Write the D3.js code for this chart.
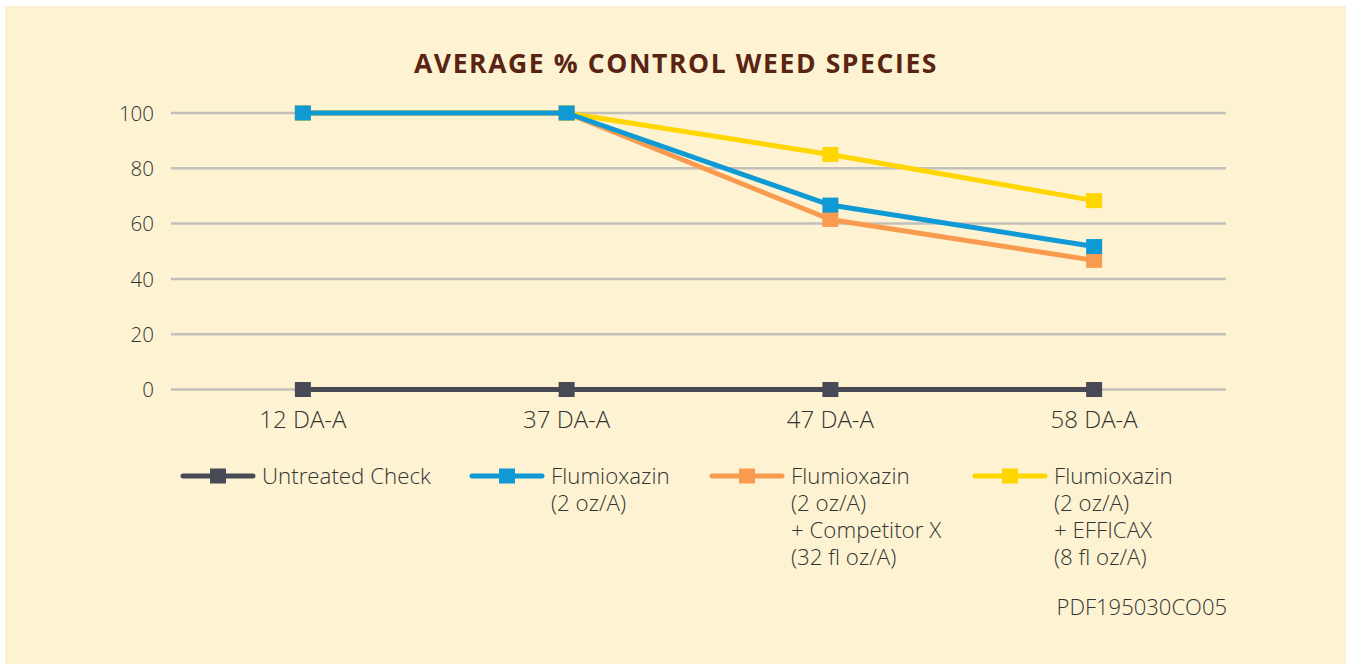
<!DOCTYPE html>
<html>
<head>
<meta charset="utf-8">
<script src="https://cdn.jsdelivr.net/npm/d3@7"></script>
<style>
  html, body { margin: 0; padding: 0; background: #ffffff; }
  svg { display: block; }
  text { font-family: "Open Sans", "Noto Sans", sans-serif; }
</style>
</head>
<body>
<svg id="chart" width="1346" height="664"></svg>
<script>
const categories = ["12 DA-A", "37 DA-A", "47 DA-A", "58 DA-A"];
const yTicks = [0, 20, 40, 60, 80, 100];
const untreated = [0, 0, 0, 0];
const flumioxazin = [100, 100, 66.7, 51.7];
const competitor = [100, 100, 61.5, 46.7];
const efficax = [100, 100, 85, 68.3];
const seriesNames = ["Untreated Check", "Flumioxazin", "Flumioxazin + Competitor X", "Flumioxazin + EFFICAX"];
const legendLabels = [
  ["Untreated Check"],
  ["Flumioxazin", "(2 oz/A)"],
  ["Flumioxazin", "(2 oz/A)", "+ Competitor X", "(32 fl oz/A)"],
  ["Flumioxazin", "(2 oz/A)", "+ EFFICAX", "(8 fl oz/A)"]
];
const colors = ["#474a54", "#0f9ad6", "#f89b4f", "#ffd600"];
const title = "AVERAGE % CONTROL WEED SPECIES";
const footnote = "PDF195030CO05";

const series = [
  { name: seriesNames[0], values: untreated, color: colors[0], legend: legendLabels[0] },
  { name: seriesNames[1], values: flumioxazin, color: colors[1], legend: legendLabels[1] },
  { name: seriesNames[2], values: competitor, color: colors[2], legend: legendLabels[2] },
  { name: seriesNames[3], values: efficax, color: colors[3], legend: legendLabels[3] }
];

const svg = d3.select("#chart");
svg.append("rect").attr("x", 5).attr("y", 6).attr("width", 1341).attr("height", 658).attr("fill", "#fdf3d2");

svg.append("text").attr("x", 676).attr("y", 73).attr("text-anchor", "middle")
  .attr("fill", "#5a2414").attr("font-size", 26.5).attr("font-weight", 700)
  .attr("letter-spacing", 1.6).text(title);

const x = d3.scaleBand().domain(categories).range([171, 1226]);
const y = d3.scaleLinear().domain([0, 100]).range([389.5, 113]);

// gridlines
const grid = svg.append("g");
grid.selectAll("line").data(yTicks).join("line")
  .attr("x1", 171).attr("x2", 1226)
  .attr("y1", d => y(d)).attr("y2", d => y(d))
  .attr("stroke", "#c2c0bb").attr("stroke-width", 2.5);

// y axis
const yAxis = svg.append("g").attr("transform", "translate(171,0)")
  .call(d3.axisLeft(y).tickValues(yTicks).tickSize(0).tickPadding(17));
yAxis.select(".domain").remove();
yAxis.selectAll("text").attr("font-size", 20.5).attr("fill", "#333").attr("font-family", "Open Sans").attr("font-weight", 300).attr("dy", "0.36em");

// x axis
const xAxis = svg.append("g").attr("transform", "translate(0,389.5)")
  .call(d3.axisBottom(x).tickSize(0));
xAxis.select(".domain").remove();
xAxis.selectAll("text").attr("font-size", 24).attr("fill", "#333").attr("font-family", "Open Sans")
  .attr("font-weight", 300).attr("y", 38.5).attr("dy", null);

const line = d3.line().x((d, i) => x(categories[i]) + x.bandwidth() / 2).y(d => y(d));
const drawOrder = [0, 2, 3, 1];
drawOrder.forEach(k => {
  const s = series[k];
  const g = svg.append("g");
  g.append("path").attr("d", line(s.values)).attr("fill", "none")
    .attr("stroke", s.color).attr("stroke-width", 5).attr("stroke-linejoin", "round");
  g.selectAll("rect").data(s.values).join("rect")
    .attr("x", (d, i) => x(categories[i]) + x.bandwidth() / 2 - 8)
    .attr("y", d => y(d) - 7.5)
    .attr("width", 16).attr("height", 15)
    .attr("fill", s.color);
});

// legend
const legendX = [183, 472, 712, 975];
const legend = svg.append("g");
series.forEach((s, k) => {
  const g = legend.append("g").attr("transform", `translate(${legendX[k]},476)`);
  g.append("line").attr("x1", 0).attr("x2", 70).attr("y1", 0).attr("y2", 0)
    .attr("stroke", s.color).attr("stroke-width", 5).attr("stroke-linecap", "round");
  g.append("rect").attr("x", 27).attr("y", -7.5).attr("width", 16).attr("height", 15).attr("fill", s.color);
  const t = g.append("text").attr("x", 79).attr("y", 8).attr("font-size", 22.3)
    .attr("fill", "#333").attr("font-weight", 300);
  s.legend.forEach((ln, i) => {
    t.append("tspan").attr("x", 79).attr("dy", i === 0 ? 0 : 27).text(ln);
  });
});

svg.append("text").attr("x", 1227).attr("y", 615).attr("text-anchor", "end")
  .attr("font-size", 22).attr("fill", "#333").attr("font-weight", 300).text(footnote);
</script>
</body>
</html>
